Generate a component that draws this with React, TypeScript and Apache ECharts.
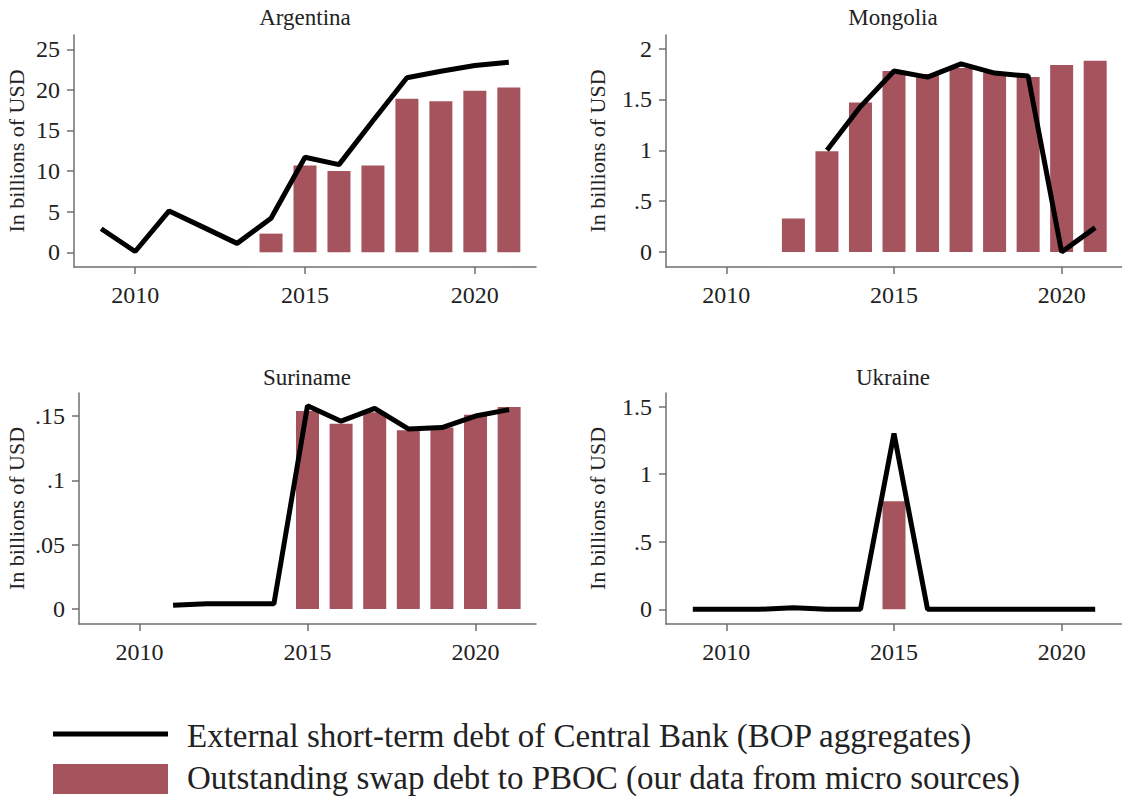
import React, { useEffect, useRef } from "react";
import * as echarts from "echarts";

const YEARS = [2009, 2010, 2011, 2012, 2013, 2014, 2015, 2016, 2017, 2018, 2019, 2020, 2021];

const PANELS = ["Argentina", "Mongolia", "Suriname", "Ukraine"];

// External short-term debt of Central Bank (BOP aggregates)
const ARG_BOP = [2.9, 0.1, 5.1, 3.1, 1.1, 4.2, 11.7, 10.8, 16.2, 21.5, 22.3, 23.0, 23.4];
const MNG_BOP = [null, null, null, null, 1.0, 1.43, 1.78, 1.72, 1.85, 1.76, 1.73, 0.0, 0.24];
const SUR_BOP = [null, null, 0.003, 0.004, 0.004, 0.004, 0.158, 0.146, 0.156, 0.14, 0.141, 0.15, 0.155];
const UKR_BOP = [0, 0, 0, 0.012, 0, 0, 1.3, 0, 0, 0, 0, 0, 0];

// Outstanding swap debt to PBOC (micro sources)
const ARG_SWAP = [null, null, null, null, null, 2.3, 10.7, 10.0, 10.7, 18.9, 18.6, 19.9, 20.3];
const MNG_SWAP = [null, null, null, 0.33, 0.99, 1.47, 1.78, 1.75, 1.81, 1.76, 1.72, 1.84, 1.88];
const SUR_SWAP = [null, null, null, null, null, null, 0.154, 0.144, 0.153, 0.139, 0.141, 0.151, 0.157];
const UKR_SWAP = [null, null, null, null, null, null, 0.8, null, null, null, null, null, null];

const X_TICKS = [2010, 2015, 2020];
const ARG_TICKS = [0, 5, 10, 15, 20, 25];
const MNG_TICKS = [0, 0.5, 1, 1.5, 2];
const SUR_TICKS = [0, 0.05, 0.1, 0.15];
const UKR_TICKS = [0, 0.5, 1, 1.5];

const LEGEND_LINE = "External short-term debt of Central Bank (BOP aggregates)";
const LEGEND_BAR = "Outstanding swap debt to PBOC (our data from micro sources)";
const Y_NAME = "In billions of USD";

const FONT = '"Liberation Serif", "Times New Roman", serif';
const BAR_COLOR = "#a5545d";
const AXIS_COLOR = "#6f6f6f";
const TEXT_COLOR = "#222";

const fmt = (v: number) => {
  const s = String(Math.round(v * 1000) / 1000);
  return s.replace(/^0\./, ".");
};

const toPairs = (vals: (number | null)[]) =>
  YEARS.map((y, i) => [y, vals[i]] as [number, number | null]).filter((p) => p[1] !== null);

export default function App() {
  const ref = useRef<HTMLDivElement>(null);

  useEffect(() => {
    if (!ref.current) return;
    const chart = echarts.init(ref.current, undefined, { renderer: "svg" });

    const grids = [
      { left: 74, top: 35, width: 462, height: 232 },
      { left: 666, top: 35, width: 456, height: 232 },
      { left: 79, top: 393, width: 457, height: 231 },
      { left: 666, top: 393, width: 456, height: 231 },
    ];
    const yRanges = [
      { min: -1.81, max: 26.76, ticks: ARG_TICKS, gap: 47 },
      { min: -0.147, max: 2.134, ticks: MNG_TICKS, gap: 58 },
      { min: -0.01166, max: 0.1679, ticks: SUR_TICKS, gap: 52 },
      { min: -0.109, max: 1.6, ticks: UKR_TICKS, gap: 58 },
    ];
    const bops = [ARG_BOP, MNG_BOP, SUR_BOP, UKR_BOP];
    const swaps = [ARG_SWAP, MNG_SWAP, SUR_SWAP, UKR_SWAP];

    const xAxis = grids.map((_, i) => ({
      type: "value",
      gridIndex: i,
      min: 2008.2,
      max: 2021.8,
      axisLine: { show: true, onZero: false, lineStyle: { color: AXIS_COLOR, width: 1.5 } },
      axisTick: { show: true, length: 7, customValues: X_TICKS, lineStyle: { color: AXIS_COLOR, width: 1.5 } },
      axisLabel: {
        customValues: X_TICKS,
        formatter: (v: number) => String(v),
        fontFamily: FONT,
        fontSize: 24,
        color: TEXT_COLOR,
        margin: 16,
      },
      splitLine: { show: false },
    }));

    const yAxis = yRanges.map((r, i) => ({
      type: "value",
      gridIndex: i,
      min: r.min,
      max: r.max,
      name: Y_NAME,
      nameLocation: "middle",
      nameGap: r.gap,
      nameRotate: 90,
      nameTextStyle: { fontFamily: FONT, fontSize: 22, color: TEXT_COLOR },
      axisLine: { show: true, onZero: false, lineStyle: { color: AXIS_COLOR, width: 1.5 } },
      axisTick: { show: true, length: 7, customValues: r.ticks, lineStyle: { color: AXIS_COLOR, width: 1.5 } },
      axisLabel: {
        customValues: r.ticks,
        formatter: (v: number) => fmt(v),
        fontFamily: FONT,
        fontSize: 24,
        color: TEXT_COLOR,
        margin: 14,
      },
      splitLine: { show: false },
    }));

    const series: any[] = [];
    grids.forEach((_, i) => {
      series.push({
        type: "bar",
        name: LEGEND_BAR,
        xAxisIndex: i,
        yAxisIndex: i,
        barWidth: 23,
        itemStyle: { color: BAR_COLOR },
        data: toPairs(swaps[i]),
        z: 2,
      });
      series.push({
        type: "line",
        name: LEGEND_LINE,
        xAxisIndex: i,
        yAxisIndex: i,
        showSymbol: false,
        symbol: "none",
        lineStyle: { color: "#000", width: 5 },
        data: toPairs(bops[i]),
        z: 3,
      });
    });

    const titlePos = [
      [305, 17],
      [893, 17],
      [307, 377],
      [893, 377],
    ];

    const graphic: any[] = [
      ...PANELS.map((p, i) => ({
        type: "text",
        x: titlePos[i][0],
        y: titlePos[i][1],
        style: {
          text: p,
          fontFamily: FONT,
          fontSize: 23,
          fill: TEXT_COLOR,
          align: "center",
          verticalAlign: "middle",
        },
      })),
      {
        type: "line",
        shape: { x1: 53, y1: 734, x2: 168, y2: 734 },
        style: { stroke: "#000", lineWidth: 5 },
      },
      {
        type: "rect",
        shape: { x: 53, y: 764, width: 115, height: 30 },
        style: { fill: BAR_COLOR },
      },
      {
        type: "text",
        x: 187,
        y: 736,
        style: { text: LEGEND_LINE, fontFamily: FONT, fontSize: 33, fill: TEXT_COLOR, verticalAlign: "middle" },
      },
      {
        type: "text",
        x: 187,
        y: 778,
        style: { text: LEGEND_BAR, fontFamily: FONT, fontSize: 33, fill: TEXT_COLOR, verticalAlign: "middle" },
      },
    ];

    chart.setOption({
      animation: false,
      backgroundColor: "#fff",
      grid: grids.map((g) => ({ ...g, containLabel: false })),
      xAxis,
      yAxis,
      series,
      graphic,
    });

    return () => chart.dispose();
  }, []);

  return (
    <div
      ref={ref}
      style={{ position: "absolute", left: 0, top: 0, width: 1122, height: 800, background: "#fff" }}
    />
  );
}
